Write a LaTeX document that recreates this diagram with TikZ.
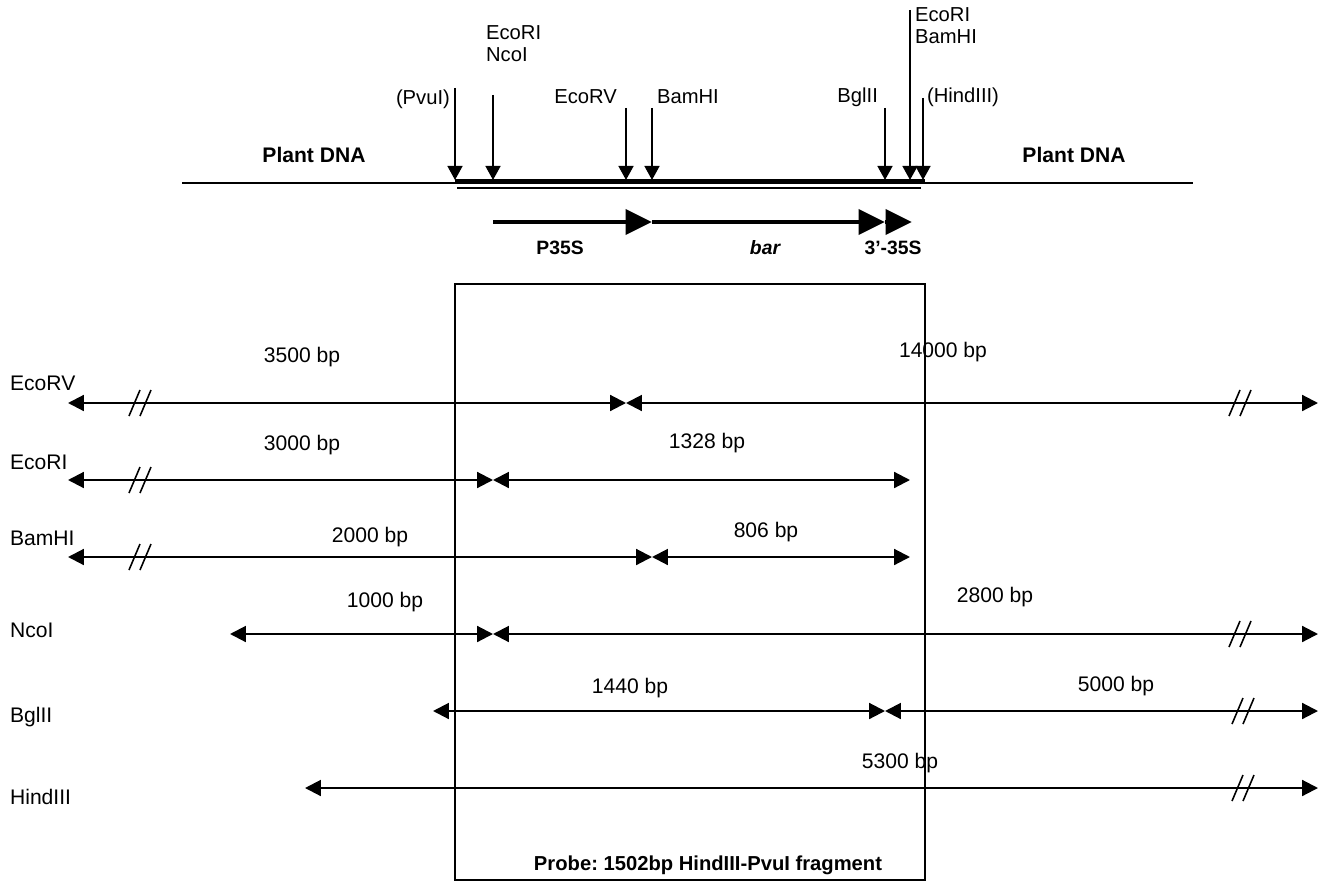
\documentclass[tikz,border=0pt]{standalone}
\usepackage{fontspec}
\setmainfont{Liberation Sans}
\usetikzlibrary{arrows.meta, calc}
\frenchspacing

% two slanted strokes across a fragment line
\newcommand\cutmark[1]{%
  \draw[cut] ($(#1)+(-11,13)$) -- ($(#1)+(0,-13)$);
  \draw[cut] ($(#1)+(0,13)$) -- ($(#1)+(11,-13)$);}

\begin{document}
\begin{tikzpicture}[
  x=0.02cm, y=-0.02cm,
  lbl/.style={font=\fontsize{11.5}{12.5}\selectfont, inner sep=1pt, align=left},
  enzrow/.style={font=\fontsize{12}{14}\selectfont, inner sep=1pt, anchor=west},
  size/.style={font=\fontsize{12}{14}\selectfont, inner sep=1pt},
  bold/.style={font=\fontsize{11}{13}\selectfont\bfseries, inner sep=1pt},
  dna/.style={line width=1pt},
  site/.style={line width=1.1pt, -{Triangle[length=8pt, width=8.5pt]}},
  gene/.style={line width=2.8pt, -{Triangle[length=15pt, width=14pt]}},
  frag/.style={line width=1.2pt, {Triangle[length=9pt, width=9pt]}-{Triangle[length=9pt, width=9pt]}},
  cut/.style={line width=0.9pt},
  probe/.style={draw, line width=0.9pt}
]
\useasboundingbox (0,0) rectangle (1321,892);

% --- plant DNA with insert ---
\coordinate (dnaL) at (182,183);
\coordinate (dnaR) at (1193,183);
\coordinate (insL) at (455,181);
\coordinate (insR) at (925,181);
\draw[dna] (dnaL) -- (dnaR);
\draw[line width=2.4pt] (insL) -- (insR);
\draw[line width=0.8pt] ($(insL)+(2,7)$) -- ($(insR)+(-4,7)$);
\node[bold, font=\fontsize{12}{14}\selectfont\bfseries] (plantL) at (314,155) {Plant DNA};
\node[bold, font=\fontsize{12}{14}\selectfont\bfseries] (plantR) at (1074,155) {Plant DNA};

% --- restriction sites ---
\coordinate (pvu)  at (455,180);  \coordinate (pvuT)  at (455,88);
\coordinate (nco)  at (493,180);  \coordinate (ncoT)  at (493,95);
\coordinate (rv)   at (626,180);  \coordinate (rvT)   at (626,108);
\coordinate (bam)  at (652,180);  \coordinate (bamT)  at (652,108);
\coordinate (bgl)  at (885,180);  \coordinate (bglT)  at (885,108);
\coordinate (eco)  at (910,180);  \coordinate (ecoT)  at (910,10);
\coordinate (hind) at (923,180);  \coordinate (hindT) at (923,98);
\draw[site] (pvuT) -- (pvu);
\draw[site] (ncoT) -- (nco);
\draw[site] (rvT) -- (rv);
\draw[site] (bamT) -- (bam);
\draw[site] (bglT) -- (bgl);
\draw[site] (ecoT) -- (eco);
\draw[site] (hindT) -- (hind);
\node[lbl, anchor=east] (pvuL)  at (452,99) {(PvuI)};
\node[lbl, anchor=west] (ncoL)  at (484,44) {EcoRI\\NcoI};
\node[lbl, anchor=east] (rvL)   at (619,97) {EcoRV};
\node[lbl, anchor=west] (bamL)  at (655,97) {BamHI};
\node[lbl, anchor=east] (bglL)  at (880,97) {BglII};
\node[lbl, anchor=west] (ecoL)  at (913,26) {EcoRI\\BamHI};
\node[lbl, anchor=west] (hindL) at (925,97) {(HindIII)};

% --- cassette ---
\coordinate (g0) at (493,222);
\coordinate (g1) at (652,222);
\coordinate (g2) at (885,222);
\coordinate (g3) at (912,222);
\draw[gene] (g0) -- (g1);
\draw[gene] (g1) -- (g2);
\draw[gene] (g2) -- (g3);
\node[bold] (p35s) at (560,248) {P35S};
\node[bold, font=\fontsize{11}{13}\selectfont\bfseries\itshape] (bar) at (765,248) {bar};
\node[bold] (t35s) at (893,248) {3'-35S};

% --- probe ---
\coordinate (boxTL) at (455,284);
\coordinate (boxBR) at (925,880);
\draw[probe] (boxTL) rectangle (boxBR);
\node[bold, font=\fontsize{11.5}{14}\selectfont\bfseries] (probe) at (708,865) {Probe: 1502bp HindIII-PvuI fragment};

% --- digests ---
\node[enzrow] (nEcoRV)   at (8,383) {EcoRV};
\node[enzrow] (nEcoRI)   at (8,462) {EcoRI};
\node[enzrow] (nBamHI)   at (8,538) {BamHI};
\node[enzrow] (nNcoI)    at (8,630) {NcoI};
\node[enzrow] (nBglII)   at (8,717) {BglII};
\node[enzrow] (nHindIII) at (8,797) {HindIII};

% EcoRV
\coordinate (a0) at (68,403); \coordinate (a1) at (626,403); \coordinate (a2) at (1318,403);
\draw[frag] (a0) -- (a1);
\draw[frag] (a1) -- (a2);
\cutmark{140,403}
\cutmark{1240,403}
\node[size] at (302,357) {3500 bp};
\node[size] at (943,352) {14000 bp};

% EcoRI
\coordinate (b0) at (68,480); \coordinate (b1) at (493,480); \coordinate (b2) at (910,480);
\draw[frag] (b0) -- (b1);
\draw[frag] (b1) -- (b2);
\cutmark{140,480}
\node[size] at (302,445) {3000 bp};
\node[size] at (707,443) {1328 bp};

% BamHI
\coordinate (c0) at (68,557); \coordinate (c1) at (652,557); \coordinate (c2) at (910,557);
\draw[frag] (c0) -- (c1);
\draw[frag] (c1) -- (c2);
\cutmark{140,557}
\node[size] at (370,537) {2000 bp};
\node[size] at (766,532) {806 bp};

% NcoI
\coordinate (d0) at (230,634); \coordinate (d1) at (493,634); \coordinate (d2) at (1318,634);
\draw[frag] (d0) -- (d1);
\draw[frag] (d1) -- (d2);
\cutmark{1240,634}
\node[size] at (385,602) {1000 bp};
\node[size] at (995,597) {2800 bp};

% BglII
\coordinate (e0) at (433,711); \coordinate (e1) at (885,711); \coordinate (e2) at (1318,711);
\draw[frag] (e0) -- (e1);
\draw[frag] (e1) -- (e2);
\cutmark{1243,711}
\node[size] at (630,688) {1440 bp};
\node[size] at (1116,686) {5000 bp};

% HindIII
\coordinate (f0) at (305,788); \coordinate (f1) at (1318,788);
\draw[frag] (f0) -- (f1);
\cutmark{1243,788}
\node[size] at (900,763) {5300 bp};
\end{tikzpicture}
\end{document}
